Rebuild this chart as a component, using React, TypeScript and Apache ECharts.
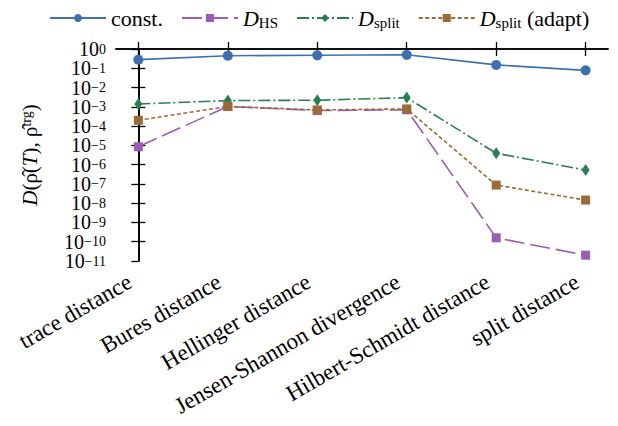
import React, { useEffect, useRef } from "react";
import * as echarts from "echarts";

const categories = [
  "trace distance",
  "Bures distance",
  "Hellinger distance",
  "Jensen-Shannon divergence",
  "Hilbert-Schmidt distance",
  "split distance",
];
const constValues = [0.28, 0.45, 0.47, 0.5, 0.15, 0.078];
const dHSValues = [8.5e-6, 1.05e-3, 6.4e-4, 7e-4, 1.6e-10, 2e-11];
const dSplitValues = [1.4e-3, 2.1e-3, 2.2e-3, 3.0e-3, 3.9e-6, 5.2e-7];
const dSplitAdaptValues = [2.0e-4, 1.05e-3, 6.9e-4, 7.8e-4, 8.7e-8, 1.45e-8];
const seriesNames = ["const.", "D_HS", "D_split", "D_split (adapt)"];
const yEndExponents = [-11, 0];

const FONT = "'Liberation Serif', serif";
const FS = 21;
const YFS = 20;
const tickIdx = categories.map((_, i) => i);

export default function App() {
  const ref = useRef<HTMLDivElement>(null);
  useEffect(() => {
    if (!ref.current) return;
    const chart = echarts.init(ref.current, undefined, { renderer: "svg" });
    const toPairs = (arr: number[]) => arr.map((v, i) => [i, v]);
    const colors = ["#3e6fb0", "#9a5cb4", "#2a7e52", "#9b6b35"];
    const legendRich = {
      t: { fontFamily: FONT, fontSize: 22, color: "#000", lineHeight: 24 },
      i: { fontFamily: FONT, fontSize: 22, fontStyle: "italic", color: "#000", lineHeight: 24 },
      sub: { fontFamily: FONT, fontSize: 15, color: "#000", verticalAlign: "bottom", lineHeight: 14 },
    };
    const expLabel = (e: number) => (e === 0 ? "{m|10}{sup|0}" : "{m|10}{sup|−" + Math.abs(e) + "}");
    const yLabelRich = {
      m: { fontFamily: FONT, fontSize: YFS, color: "#000", lineHeight: 14 },
      sup: { fontFamily: FONT, fontSize: 14, verticalAlign: "top", color: "#000", lineHeight: 4 },
    };
    const option: any = {
      animation: false,
      backgroundColor: "#fff",
      color: colors,
      legend: {
        top: 2,
        left: 44,
        itemWidth: 56,
        itemHeight: 10,
        itemGap: 18,
        data: seriesNames,
        formatter: (name: string) => {
          if (name === "const.") return "{t|const.}";
          if (name === "D_HS") return "{i|D}{sub|HS}";
          if (name === "D_split") return "{i|D}{sub|split}";
          return "{i|D}{sub|split}{t| (adapt)}";
        },
        textStyle: { rich: legendRich, fontFamily: FONT, fontSize: 22 },
      },
      grid: { left: 116, right: 10, top: 49, bottom: 165 },
      xAxis: [
        {
          type: "value",
          min: -0.25,
          max: 5.25,
          axisLine: { show: true, lineStyle: { color: "#000", width: 1.6 } },
          axisTick: { show: true, inside: true, length: 7, customValues: tickIdx, lineStyle: { color: "#000", width: 1.3 } },
          axisLabel: {
            customValues: tickIdx,
            rotate: 30,
            margin: 14,
            padding: [0, 10, 0, 0],
            formatter: (v: number) => categories[Math.round(v)] ?? "",
            fontFamily: FONT,
            fontSize: 23,
            color: "#000",
          },
          splitLine: { show: false },
        },
        {
          type: "value",
          position: "top",
          min: -0.25,
          max: 5.25,
          axisLine: { show: true, lineStyle: { color: "#000", width: 1.6 } },
          axisTick: { show: true, inside: true, length: 7, customValues: tickIdx, lineStyle: { color: "#000", width: 1.3 } },
          axisLabel: { show: false },
          splitLine: { show: false },
        },
      ],
      yAxis: [
        {
          type: "log",
          logBase: 10,
          min: 1e-11,
          max: 1,
          interval: 1,
          splitNumber: 11,
          axisLine: { show: true, lineStyle: { color: "#000", width: 1.6 } },
          axisTick: { show: true, inside: true, length: 7, lineStyle: { color: "#000", width: 1.3 } },
          minorTick: { show: false },
          splitLine: { show: false },
          axisLabel: {
            margin: 10,
            color: "#000",
            showMinLabel: false,
            showMaxLabel: false,
            hideOverlap: false,
            formatter: (v: number) => expLabel(Math.round(Math.log10(v))),
            fontFamily: FONT,
            fontSize: YFS,
            rich: yLabelRich,
          },
          name: "{i|D}(ρ̂({i|T}), ρ̂{sup|trg})",
          nameLocation: "middle",
          nameGap: 76,
          nameRotate: 90,
          nameTextStyle: {
            fontFamily: FONT,
            fontSize: FS,
            color: "#000",
            rich: {
              i: { fontFamily: FONT, fontSize: FS, fontStyle: "italic", color: "#000" },
              sup: { fontFamily: FONT, fontSize: 14, verticalAlign: "top", color: "#000" },
            },
          },
        },
        {
          type: "log",
          logBase: 10,
          min: 1e-11,
          max: 1,
          interval: 1,
          splitNumber: 11,
          position: "right",
          axisLine: { show: true, lineStyle: { color: "#000", width: 1.6 } },
          axisTick: { show: true, inside: true, length: 7, lineStyle: { color: "#000", width: 1.3 } },
          minorTick: { show: false },
          splitLine: { show: false },
          axisLabel: { show: false },
        },
        {
          type: "value",
          min: yEndExponents[0],
          max: yEndExponents[1],
          position: "left",
          axisLine: { show: false },
          axisTick: { show: false },
          splitLine: { show: false },
          axisLabel: {
            customValues: yEndExponents,
            margin: 10,
            color: "#000",
            showMinLabel: true,
            showMaxLabel: true,
            formatter: (v: number) => expLabel(Math.round(v)),
            fontFamily: FONT,
            fontSize: YFS,
            rich: yLabelRich,
          },
        },
      ],
      series: [
        {
          name: seriesNames[0],
          type: "line",
          data: toPairs(constValues),
          symbol: "circle",
          symbolSize: 10,
          lineStyle: { width: 1.6, type: "solid" },
        },
        {
          name: seriesNames[1],
          type: "line",
          data: toPairs(dHSValues),
          symbol: "rect",
          symbolSize: 9,
          lineStyle: { width: 1.6, type: [20, 6] },
        },
        {
          name: seriesNames[2],
          type: "line",
          data: toPairs(dSplitValues),
          symbol: "diamond",
          symbolSize: [8, 12],
          lineStyle: { width: 1.6, type: [12, 3, 2, 3] },
        },
        {
          name: seriesNames[3],
          type: "line",
          data: toPairs(dSplitAdaptValues),
          symbol: "rect",
          symbolSize: 9,
          lineStyle: { width: 1.6, type: [4, 2.5] },
        },
      ],
    };
    chart.setOption(option);
    return () => chart.dispose();
  }, []);
  return <div ref={ref} style={{ width: 618, height: 426, margin: -8 }} />;
}
